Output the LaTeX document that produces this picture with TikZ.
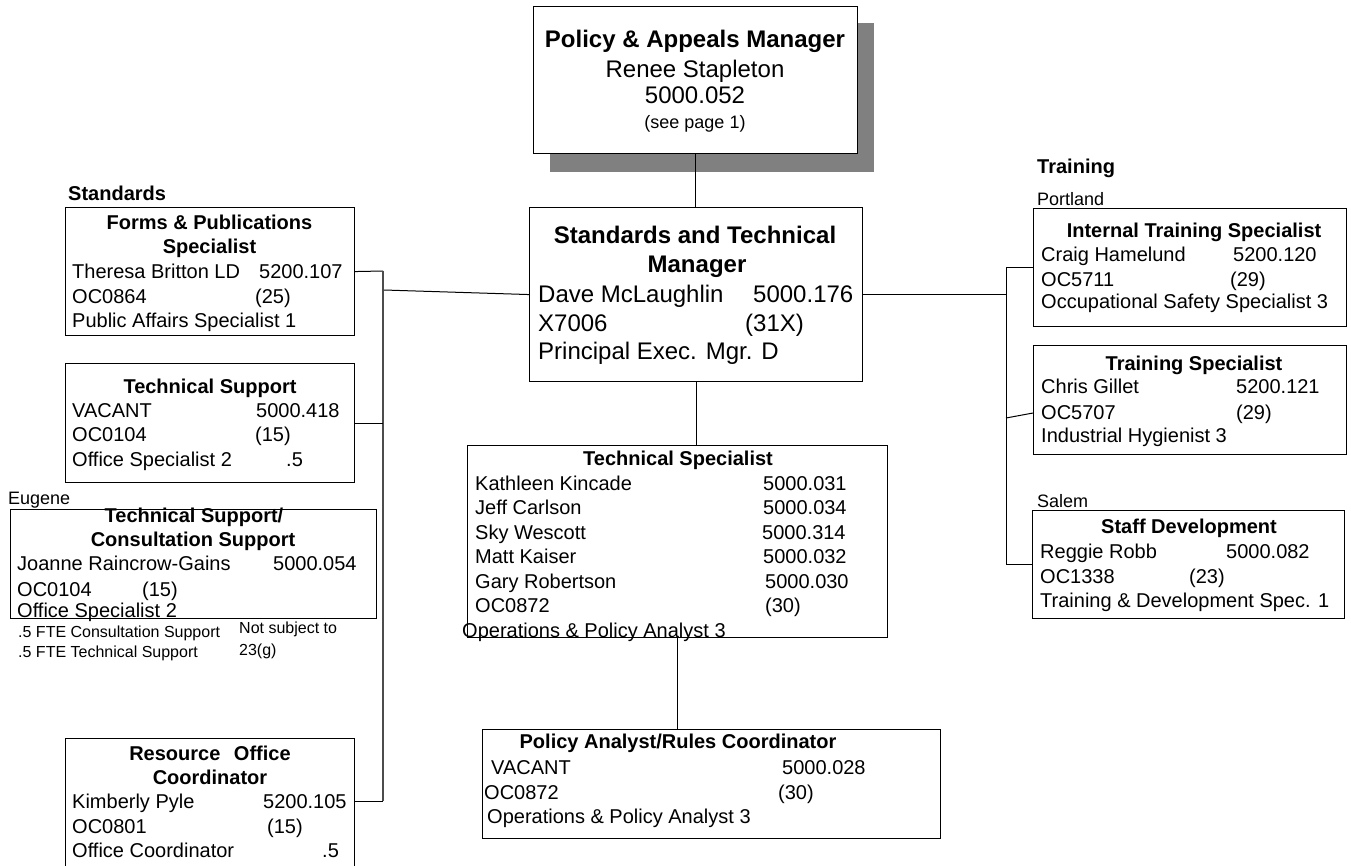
\documentclass[tikz,border=0pt]{standalone}
\usepackage{fontspec}
\setmainfont{Liberation Sans}
\usetikzlibrary{calc}
\begin{document}
\begin{tikzpicture}[x=1pt,y=-1pt,
  box/.style={draw=black, fill=white, line width=1.1pt, inner sep=0pt, anchor=north west},
  shadowbox/.style={fill=black!50, draw=none},
  wire/.style={draw=black, line width=1pt},
  bus/.style={draw=black!70, line width=1.3pt},
  tx/.style={inner sep=0pt, anchor=base west, font=\fontsize{20}{24}\selectfont},
  hd/.style={inner sep=0pt, anchor=base, font=\fontsize{20}{24}\selectfont\bfseries},
  sec/.style={inner sep=0pt, anchor=base west, font=\fontsize{20}{24}\selectfont\bfseries},
  loc/.style={inner sep=0pt, anchor=base west, font=\fontsize{18}{22}\selectfont},
  note/.style={inner sep=0pt, anchor=base west, font=\fontsize{16}{19}\selectfont},
  bigtx/.style={inner sep=0pt, anchor=base west, font=\fontsize{24}{29}\selectfont},
  bigc/.style={inner sep=0pt, anchor=base, font=\fontsize{24}{29}\selectfont},
  bighd/.style={inner sep=0pt, anchor=base, font=\fontsize{24}{29}\selectfont\bfseries},
  smallc/.style={inner sep=0pt, anchor=base, font=\fontsize{18}{22}\selectfont}]
\clip (0,0) rectangle (1351,865);
\fill[white] (0,0) rectangle (1351,865);

% ---- boxes ----
\fill[shadowbox] (550,23) rectangle (874,172);
\node[box, minimum width=324pt, minimum height=147pt] (top) at (533,6) {};
\node[box, minimum width=333pt, minimum height=174pt] (mgr) at (529,207) {};
\node[box, minimum width=289pt, minimum height=128pt] (forms) at (65,207) {};
\node[box, minimum width=289pt, minimum height=119pt] (techsup) at (65,363) {};
\node[box, minimum width=366pt, minimum height=109pt] (eugene) at (10,509) {};
\node[box, minimum width=289pt, minimum height=140pt] (resource) at (65,738) {};
\node[box, minimum width=420pt, minimum height=192pt] (techspec) at (467,445) {};
\node[box, minimum width=458pt, minimum height=109pt] (policy) at (482,729) {};
\node[box, minimum width=313pt, minimum height=118pt] (internal) at (1033,208) {};
\node[box, minimum width=313pt, minimum height=109pt] (trainspec) at (1033,345) {};
\node[box, minimum width=312pt, minimum height=108pt] (staffdev) at (1032,510) {};

% ---- connectors ----
\draw[wire] (top.south) -- (top.south |- mgr.north);
\draw[wire] (mgr.south) -- (mgr.south |- techspec.north);
\draw[wire] (techspec.south) -- (techspec.south |- policy.north);

% left bus
\coordinate (lbtop) at (383,271);
\coordinate (lbbot) at (383,801);
\coordinate (lbjoin) at (384,290);
\draw[wire] (forms.east) -- (lbtop);
\draw[bus] (lbtop) -- (lbbot);
\draw[wire] (lbbot) -- (resource.north east |- lbbot);
\draw[wire] (techsup.east) -- (techsup.east -| lbtop);
\draw[wire] (mgr.west) -- (lbjoin);

% right bus
\coordinate (rbtop) at (1006,267);
\coordinate (rbbot) at (1006,564);
\coordinate (rbts) at (1006,418);
\draw[wire] (mgr.east) -- (mgr.east -| rbtop);
\draw[wire] (internal.west |- rbtop) -- (rbtop) -- (rbbot) -- (staffdev.west |- rbbot);
\draw[wire] (rbts) -- ([yshift=-68pt]trainspec.north west);

% ---- top manager ----
\node[bighd] (topt1) at (695,47) {Policy \& Appeals Manager};
\node[bigc] (topt2) at (695,77) {Renee Stapleton};
\node[bigc] (topt3) at (695,103) {5000.052};
\node[smallc] (topt4) at (695,128) {(see page 1)};

% ---- standards and technical manager ----
\node[bighd] (mgrt1) at (695,243) {Standards and Technical};
\node[bighd] (mgrt2) at (697,272) {Manager};
\node[bigtx] (mgrt3) at (538,302) {Dave McLaughlin};
\node[bigtx] (mgrt4) at (753,302) {5000.176};
\node[bigtx] (mgrt5) at (538,331) {X7006};
\node[bigtx] (mgrt6) at (745,331) {(31X)};
\node[bigtx] (mgrt7) at (538,359) {Principal Exec. Mgr. D};

% ---- standards ----
\node[sec] (stdlbl) at (68,200) {Standards};
\node[hd] (fpt1) at (209.5,229) {Forms \& Publications};
\node[hd] (fpt2) at (209.5,253) {Specialist};
\node[tx] (fpt3) at (72,278) {Theresa Britton LD};
\node[tx] (fpt4) at (259,278) {5200.107};
\node[tx] (fpt5) at (72,303) {OC0864};
\node[tx] (fpt6) at (255,303) {(25)};
\node[tx] (fpt7) at (72,327) {Public Affairs Specialist 1};

\node[hd] (tst1) at (210,393) {Technical Support};
\node[tx] (tst2) at (72,417) {VACANT};
\node[tx] (tst3) at (256,417) {5000.418};
\node[tx] (tst4) at (72,441) {OC0104};
\node[tx] (tst5) at (255,441) {(15)};
\node[tx] (tst6) at (72,466) {Office Specialist 2};
\node[tx] (tst7) at (286,466) {.5};

\node[loc] (euglbl) at (8,504) {Eugene};
\node[hd] (eut1) at (194,522) {Technical Support/};
\node[hd] (eut2) at (193,546) {Consultation Support};
\node[tx] (eut3) at (17,570) {Joanne Raincrow-Gains};
\node[tx] (eut4) at (273,570) {5000.054};
\node[tx] (eut5) at (17,596) {OC0104};
\node[tx] (eut6) at (142,596) {(15)};
\node[tx] (eut7) at (17,617) {Office Specialist 2};
\node[note] (eun1) at (18,637) {.5 FTE Consultation Support};
\node[note] (eun2) at (18,657) {.5 FTE Technical Support};
\node[note] (eun3) at (239,633) {Not subject to};
\node[note] (eun4) at (239,655) {23(g)};

\node[hd] (rot1) at (210,760) {Resource\hspace{0.4em} Office};
\node[hd] (rot2) at (210,784) {Coordinator};
\node[tx] (rot3) at (72,808) {Kimberly Pyle};
\node[tx] (rot4) at (263,808) {5200.105};
\node[tx] (rot5) at (72,833) {OC0801};
\node[tx] (rot6) at (267,833) {(15)};
\node[tx] (rot7) at (72,857) {Office Coordinator};
\node[tx] (rot8) at (322,857) {.5};

% ---- technical specialists ----
\node[hd] (spt0) at (678,465) {Technical Specialist};
\node[tx] (spt1) at (475,490) {Kathleen Kincade};
\node[tx] (spn1) at (763,490) {5000.031};
\node[tx] (spt2) at (475,514) {Jeff Carlson};
\node[tx] (spn2) at (763,514) {5000.034};
\node[tx] (spt3) at (475,539) {Sky Wescott};
\node[tx] (spn3) at (762,539) {5000.314};
\node[tx] (spt4) at (475,563) {Matt Kaiser};
\node[tx] (spn4) at (763,563) {5000.032};
\node[tx] (spt5) at (475,588) {Gary Robertson};
\node[tx] (spn5) at (765,588) {5000.030};
\node[tx] (spt6) at (475,612) {OC0872};
\node[tx] (spn6) at (765,612) {(30)};
\node[tx] (spt7) at (462,637) {Operations \& Policy Analyst 3};

\node[hd] (pat1) at (678,748) {Policy Analyst/Rules Coordinator};
\node[tx] (pat2) at (491,774) {VACANT};
\node[tx] (pat3) at (782,774) {5000.028};
\node[tx] (pat4) at (484,799) {OC0872};
\node[tx] (pat5) at (778,799) {(30)};
\node[tx] (pat6) at (487,823) {Operations \& Policy Analyst 3};

% ---- training ----
\node[sec] (trlbl) at (1037,173) {Training};
\node[loc] (ptlbl) at (1037,205) {Portland};
\node[hd] (itt1) at (1194,237) {Internal Training Specialist};
\node[tx] (itt2) at (1041,261) {Craig Hamelund};
\node[tx] (itt3) at (1233,261) {5200.120};
\node[tx] (itt4) at (1041,286) {OC5711};
\node[tx] (itt5) at (1230,286) {(29)};
\node[tx] (itt6) at (1041,308) {Occupational Safety Specialist 3};

\node[hd] (trt1) at (1194,370) {Training Specialist};
\node[tx] (trt2) at (1041,393) {Chris Gillet};
\node[tx] (trt3) at (1236,393) {5200.121};
\node[tx] (trt4) at (1041,419) {OC5707};
\node[tx] (trt5) at (1236,419) {(29)};
\node[tx] (trt6) at (1041,442) {Industrial Hygienist 3};

\node[loc] (salbl) at (1037,507) {Salem};
\node[hd] (sdt1) at (1189,533) {Staff Development};
\node[tx] (sdt2) at (1040,558) {Reggie Robb};
\node[tx] (sdt3) at (1226,558) {5000.082};
\node[tx] (sdt4) at (1040,583) {OC1338};
\node[tx] (sdt5) at (1189,583) {(23)};
\node[tx] (sdt6) at (1040,607) {Training \& Development Spec. 1};
\end{tikzpicture}
\end{document}
